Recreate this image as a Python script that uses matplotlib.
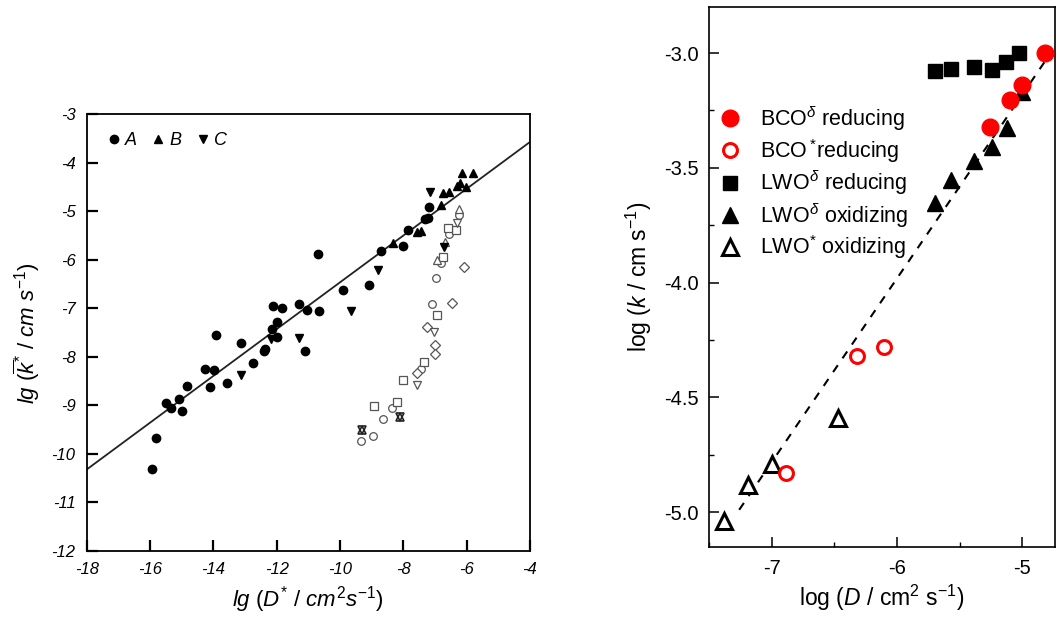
import matplotlib
matplotlib.use('Agg')
import matplotlib.pyplot as plt

plt.rcParams['font.family'] = ['Liberation Sans', 'DejaVu Sans']
plt.rcParams['mathtext.fontset'] = 'custom'
plt.rcParams['mathtext.rm'] = 'Liberation Sans'
plt.rcParams['mathtext.it'] = 'Liberation Sans:italic'
plt.rcParams['mathtext.bf'] = 'Liberation Sans:bold'
plt.rcParams['axes.unicode_minus'] = False

# ---- left panel data: lg k* vs lg D* ----
a_x = [-15.95, -15.82, -15.50, -15.35, -15.09, -14.98, -14.83, -14.26, -13.99, -14.11,
       -13.92, -13.57, -13.14, -12.76, -12.40, -12.37, -12.16, -12.00, -12.00, -12.13,
       -11.82, -11.31, -11.04, -10.66, -11.11, -10.69, -9.90, -9.09, -8.69, -8.02,
       -7.86, -7.32, -7.21, -7.18]
a_y = [-10.30, -9.68, -8.96, -9.06, -8.86, -9.11, -8.59, -8.24, -8.27, -8.63,
       -7.55, -8.54, -7.71, -8.13, -7.87, -7.84, -7.43, -7.28, -7.59, -6.95,
       -7.00, -6.91, -7.04, -7.05, -7.88, -5.88, -6.62, -6.52, -5.81, -5.72,
       -5.39, -5.16, -5.14, -4.91]
b_x = [-8.34, -7.58, -7.45, -6.81, -6.76, -6.55, -6.32, -6.21, -6.03, -6.14, -5.79]
b_y = [-5.65, -5.42, -5.41, -4.86, -4.63, -4.60, -4.48, -4.42, -4.49, -4.22, -4.22]
c_x = [-13.13, -12.18, -11.30, -9.65, -8.79, -7.16, -6.72]
c_y = [-8.38, -7.64, -7.62, -7.06, -6.21, -4.61, -5.73]

# open symbols (other data sets)
oc_x = [-6.23, -6.55, -6.81, -6.97, -7.09, -7.45, -8.36, -8.65, -9.33, -8.96]
oc_y = [-5.08, -5.47, -6.06, -6.38, -6.91, -8.25, -9.06, -9.28, -9.74, -9.63]
os_x = [-6.34, -6.60, -6.74, -6.93, -7.36, -8.02, -8.93, -8.21]
os_y = [-5.39, -5.35, -5.95, -7.14, -8.11, -8.48, -9.01, -8.93]
od_x = [-6.08, -6.47, -7.25, -6.99, -6.99, -7.56]
od_y = [-6.14, -6.88, -7.39, -7.76, -7.94, -8.33]
otu_x = [-6.23, -6.69, -6.95]
otu_y = [-4.96, -5.63, -6.00]
otd_x = [-6.32, -7.03, -7.58]
otd_y = [-5.25, -7.48, -8.57]
star_x = [-8.11, -9.31]
star_y = [-9.24, -9.51]

fit_x = [-18, -4]
fit_y = [-10.32, -3.57]

# ---- right panel data: log k vs log D ----
bco_d_x = [-4.82, -5.00, -5.10, -5.26]
bco_d_y = [-3.00, -3.14, -3.205, -3.32]
bco_s_x = [-6.32, -6.105, -6.89]
bco_s_y = [-4.32, -4.28, -4.83]
lwo_dr_x = [-5.70, -5.57, -5.39, -5.24, -5.13, -5.03]
lwo_dr_y = [-3.08, -3.07, -3.06, -3.075, -3.04, -3.00]
lwo_do_x = [-5.70, -5.57, -5.39, -5.24, -5.12, -5.00]
lwo_do_y = [-3.655, -3.553, -3.469, -3.408, -3.328, -3.168]
lwo_so_x = [-7.38, -7.19, -7.00, -6.47]
lwo_so_y = [-5.04, -4.88, -4.79, -4.59]

trend_x = [-7.26, -4.80]
trend_y = [-4.99, -3.02]

W, H = 1057, 617
fig = plt.figure(figsize=(W / 100, H / 100), dpi=100)

# ================= left panel =================
ax1 = fig.add_axes([86.7 / W, 66 / H, 443.3 / W, 436.7 / H])
ax1.plot(fit_x, fit_y, color='#222222', lw=1.3, zorder=1)
ms = 6
hA, = ax1.plot(a_x, a_y, 'o', color='black', ms=ms, ls='none', zorder=3)
hB, = ax1.plot(b_x, b_y, '^', color='black', ms=ms, ls='none', zorder=3)
hC, = ax1.plot(c_x, c_y, 'v', color='black', ms=ms, ls='none', zorder=3)
gray = '#555555'
for xs, ys, mk in [(oc_x, oc_y, 'o'), (os_x, os_y, 's'), (od_x, od_y, 'D'),
                   (otu_x, otu_y, '^'), (otd_x, otd_y, 'v')]:
    ax1.plot(xs, ys, mk, ms=5.5 if mk != 'D' else 5, mfc='white', mec=gray, mew=0.9,
             ls='none', zorder=2)
ax1.plot(star_x, star_y, '^', ms=5.5, mfc='none', mec='#222222', mew=1.2, ls='none', zorder=2)
ax1.plot(star_x, star_y, 'v', ms=5.5, mfc='none', mec='#222222', mew=1.2, ls='none', zorder=2)

ax1.set_xlim(-18, -4)
ax1.set_ylim(-12, -3)
ax1.set_xticks(range(-18, -3, 2))
ax1.set_yticks(range(-12, -2))
ax1.tick_params(direction='in', length=8, width=1.6, labelsize=12, pad=8,
                top=False, right=False)
for lab in ax1.get_xticklabels() + ax1.get_yticklabels():
    lab.set_fontstyle('italic')
for sp in ax1.spines.values():
    sp.set_linewidth(1.3)
ax1.set_xlabel(r'$lg\ (D^{*}\ /\ cm^{2}s^{-1})$', fontsize=16, labelpad=5)
ax1.set_ylabel(r'$lg\ (\overline{k}^{*}\ /\ cm\ s^{-1})$', fontsize=16, labelpad=7)
ax1.legend([hA, hB, hC], ['A', 'B', 'C'], ncol=3, loc='center left',
           bbox_to_anchor=(0.033, 0.939), frameon=False, handlelength=0.6,
           handletextpad=0.3, columnspacing=0.9, borderaxespad=0,
           prop={'style': 'italic', 'size': 13})

# ================= right panel =================
ax2 = fig.add_axes([708.5 / W, 70 / H, 346.5 / W, 540.5 / H])
ax2.plot(trend_x, trend_y, color='black', lw=1.5, dashes=(4, 4), zorder=1)
ax2.plot(bco_d_x, bco_d_y, 'o', color='#ff0000', ms=12, ls='none', zorder=4,
         label=r'BCO$^{\delta}$ reducing')
ax2.plot(bco_s_x, bco_s_y, 'o', mfc='white', mec='#ff0000', mew=2.2, ms=10, ls='none',
         zorder=4, label=r'BCO$\,^{*}$reducing')
ax2.plot(lwo_dr_x, lwo_dr_y, 's', color='black', ms=10, ls='none', zorder=3,
         label=r'LWO$^{\delta}$ reducing')
ax2.plot(lwo_do_x, lwo_do_y, '^', color='black', ms=12, ls='none', zorder=3,
         label=r'LWO$^{\delta}$ oxidizing')
ax2.plot(lwo_so_x, lwo_so_y, '^', mfc='white', mec='black', mew=2.2, ms=11, ls='none',
         zorder=3, label=r'LWO$^{*}$ oxidizing')

ax2.set_xlim(-7.505, -4.74)
ax2.set_ylim(-5.152, -2.797)
ax2.set_xticks([-7, -6, -5])
ax2.set_xticks([-7.5, -6.5, -5.5], minor=True)
ax2.set_yticks([-5.0, -4.5, -4.0, -3.5, -3.0])
ax2.set_yticks([-4.75, -4.25, -3.75, -3.25], minor=True)
ax2.set_yticklabels(['-5.0', '-4.5', '-4.0', '-3.5', '-3.0'])
ax2.set_xticklabels(['-7', '-6', '-5'])
ax2.tick_params(which='major', direction='in', length=7, width=1.1, labelsize=14.5,
                top=False, right=False)
ax2.tick_params(which='minor', direction='in', length=3.5, width=1.0, top=False, right=False)
ax2.tick_params(axis='x', pad=9)
ax2.tick_params(axis='y', pad=7)
for sp in ax2.spines.values():
    sp.set_linewidth(1.2)
ax2.set_xlabel(r'log ($D$ / cm$^2$ s$^{-1}$)', fontsize=16.5, labelpad=3)
ax2.set_ylabel(r'log ($k$ / cm s$^{-1}$)', fontsize=16.5, labelpad=7)
ax2.legend(loc='upper left', bbox_to_anchor=(0.0, 0.835), frameon=False,
           handlelength=1.2, handletextpad=0.8, labelspacing=0.18, borderaxespad=0,
           fontsize=15.5)

fig.savefig('out.png', dpi=100)
